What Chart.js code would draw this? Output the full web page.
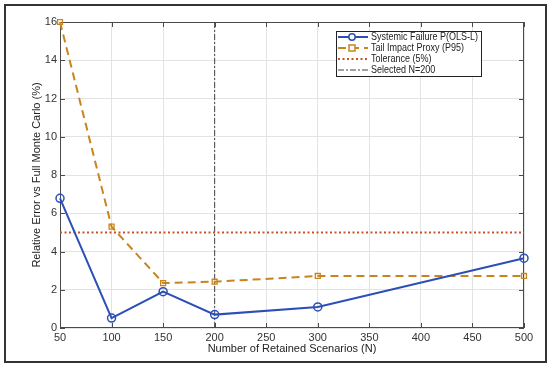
<!DOCTYPE html>
<html>
<head>
<meta charset="utf-8">
<script src="https://cdn.jsdelivr.net/npm/chart.js@4"></script>
<style>
  html, body { margin: 0; padding: 0; background: #fff; overflow: hidden; }
  #c { display: block; }
</style>
</head>
<body>
<canvas id="c" width="550" height="366"></canvas>
<script>
const nValues = [50, 100, 150, 200, 300, 500]
const systemicFailure = [6.78, 0.52, 1.9, 0.7, 1.1, 3.65]
const tailImpact = [16.0, 5.3, 2.35, 2.42, 2.72, 2.72]
const tolerance = 5
const selectedN = 200
const xTicks = [50, 100, 150, 200, 250, 300, 350, 400, 450, 500]
const yTicks = [0, 2, 4, 6, 8, 10, 12, 14, 16]

const BLUE = '#2b4fb6'
const ORANGE = '#c98420'
const RED = '#c4532b'
const AXIS = '#4a4a4a'
const FONT = "'Liberation Sans', Arial, sans-serif"

// frame around the figure, box + inward ticks, and the boxed legend
const matlabLook = {
  id: 'matlabLook',
  beforeDraw(chart) {
    const ctx = chart.ctx
    ctx.save()
    ctx.fillStyle = '#fff'
    ctx.fillRect(0, 0, chart.width, chart.height)
    ctx.strokeStyle = '#333'
    ctx.lineWidth = 2
    ctx.strokeRect(5, 5, 541, 357)
    ctx.restore()
  },
  beforeDatasetsDraw(chart) {
    const { ctx, chartArea: a, scales } = chart
    ctx.save()
    ctx.strokeStyle = AXIS
    ctx.lineWidth = 1
    ctx.beginPath()
    ctx.moveTo(a.left + 0.5, a.top); ctx.lineTo(a.left + 0.5, a.bottom - 0.5); ctx.lineTo(a.right, a.bottom - 0.5)
    ctx.moveTo(a.left, a.top + 0.5); ctx.lineTo(a.right - 0.5, a.top + 0.5); ctx.lineTo(a.right - 0.5, a.bottom)
    xTicks.forEach((v) => {
      const x = Math.round(scales.x.getPixelForValue(v)) + 0.5
      ctx.moveTo(x, a.bottom); ctx.lineTo(x, a.bottom - 5)
      ctx.moveTo(x, a.top); ctx.lineTo(x, a.top + 5)
    })
    yTicks.forEach((v) => {
      const y = Math.round(scales.y.getPixelForValue(v)) + 0.5
      ctx.moveTo(a.left, y); ctx.lineTo(a.left + 5, y)
      ctx.moveTo(a.right, y); ctx.lineTo(a.right - 5, y)
    })
    ctx.stroke()
    ctx.restore()
  },
  afterDraw(chart) {
    const ctx = chart.ctx
    ctx.save()
    // legend
    const lx = 336, ly = 31, lw = 145, lh = 45
    ctx.fillStyle = '#fff'
    ctx.fillRect(lx, ly, lw, lh)
    ctx.strokeStyle = '#222'
    ctx.lineWidth = 1
    ctx.strokeRect(lx + 0.5, ly + 0.5, lw, lh)
    ctx.font = '10px ' + FONT
    ctx.textBaseline = 'middle'
    const sx = 107 / ctx.measureText(chart.data.datasets[0].label).width
    chart.data.datasets.forEach((ds, i) => {
      const y = ly + 6 + i * 11
      ctx.save()
      ctx.strokeStyle = ds.borderColor
      ctx.lineWidth = ds.borderWidth
      ctx.setLineDash(ds.borderDash || [])
      ctx.beginPath()
      ctx.moveTo(lx + 2, y); ctx.lineTo(lx + 32, y)
      ctx.stroke()
      ctx.setLineDash([])
      if (ds.pointRadius) {
        ctx.lineWidth = 1.5
        ctx.fillStyle = '#fff'
        ctx.beginPath()
        if (ds.pointStyle === 'rect') {
          ctx.rect(lx + 13, y - 3, 6, 6)
        } else {
          ctx.arc(lx + 16, y, 3.2, 0, Math.PI * 2)
        }
        ctx.fill(); ctx.stroke()
      }
      ctx.restore()
      ctx.save()
      ctx.translate(lx + 35, y + 0.5)
      ctx.scale(sx, 1)
      ctx.fillStyle = '#222'
      ctx.fillText(ds.label, 0, 0)
      ctx.restore()
    })
    ctx.restore()
  },
}

const config = {
  type: 'line',
  data: {
    datasets: [
      {
        label: 'Systemic Failure P(OLS-L)',
        data: nValues.map((n, i) => ({ x: n, y: systemicFailure[i] })),
        borderColor: BLUE,
        backgroundColor: 'rgba(255,255,255,0)',
        borderWidth: 2,
        pointStyle: 'circle',
        pointRadius: 4,
        pointBorderWidth: 1.5,
        tension: 0,
        clip: false,
      },
      {
        label: 'Tail Impact Proxy (P95)',
        data: nValues.map((n, i) => ({ x: n, y: tailImpact[i] })),
        borderColor: ORANGE,
        backgroundColor: 'rgba(255,255,255,0)',
        borderWidth: 2,
        borderDash: [8, 5],
        pointStyle: 'rect',
        pointRadius: 3.5,
        pointBorderWidth: 1.3,
        tension: 0,
        clip: false,
      },
      {
        label: 'Tolerance (5%)',
        data: [{ x: 50, y: tolerance }, { x: 500, y: tolerance }],
        borderColor: RED,
        borderWidth: 2,
        borderDash: [2, 2.5],
        pointRadius: 0,
      },
      {
        label: 'Selected N=200',
        data: [{ x: selectedN, y: 0 }, { x: selectedN, y: 16 }],
        borderColor: '#444',
        borderWidth: 1,
        borderDash: [6, 2, 2, 2],
        pointRadius: 0,
      },
    ],
  },
  options: {
    responsive: false,
    animation: false,
    devicePixelRatio: 1,
    layout: { padding: { left: 28, right: 26, top: 22, bottom: 7 } },
    plugins: { legend: { display: false }, tooltip: { enabled: false } },
    scales: {
      x: {
        type: 'linear',
        min: 50,
        max: 500,
        afterBuildTicks: (s) => { s.ticks = xTicks.map((v) => ({ value: v })) },
        afterFit: (s) => { s.height = 31 },
        grid: { color: '#e3e3e3', drawTicks: false },
        border: { display: false },
        ticks: { color: '#333', padding: 3, font: { family: FONT, size: 11 }, maxRotation: 0 },
        title: { display: true, text: 'Number of Retained Scenarios (N)', color: '#222', font: { family: FONT, size: 11 }, padding: { top: 0, bottom: 3 } },
      },
      y: {
        min: 0,
        max: 16,
        afterBuildTicks: (s) => { s.ticks = yTicks.map((v) => ({ value: v })) },
        afterFit: (s) => { s.width = 32 },
        grid: { color: '#e3e3e3', drawTicks: false },
        border: { display: false },
        ticks: { color: '#333', padding: 3, font: { family: FONT, size: 11 } },
        title: { display: true, text: 'Relative Error vs Full Monte Carlo (%)', color: '#222', font: { family: FONT, size: 11 }, padding: { top: 2, bottom: 2 } },
      },
    },
  },
  plugins: [matlabLook],
}

new Chart(document.getElementById('c'), config)
</script>
</body>
</html>
